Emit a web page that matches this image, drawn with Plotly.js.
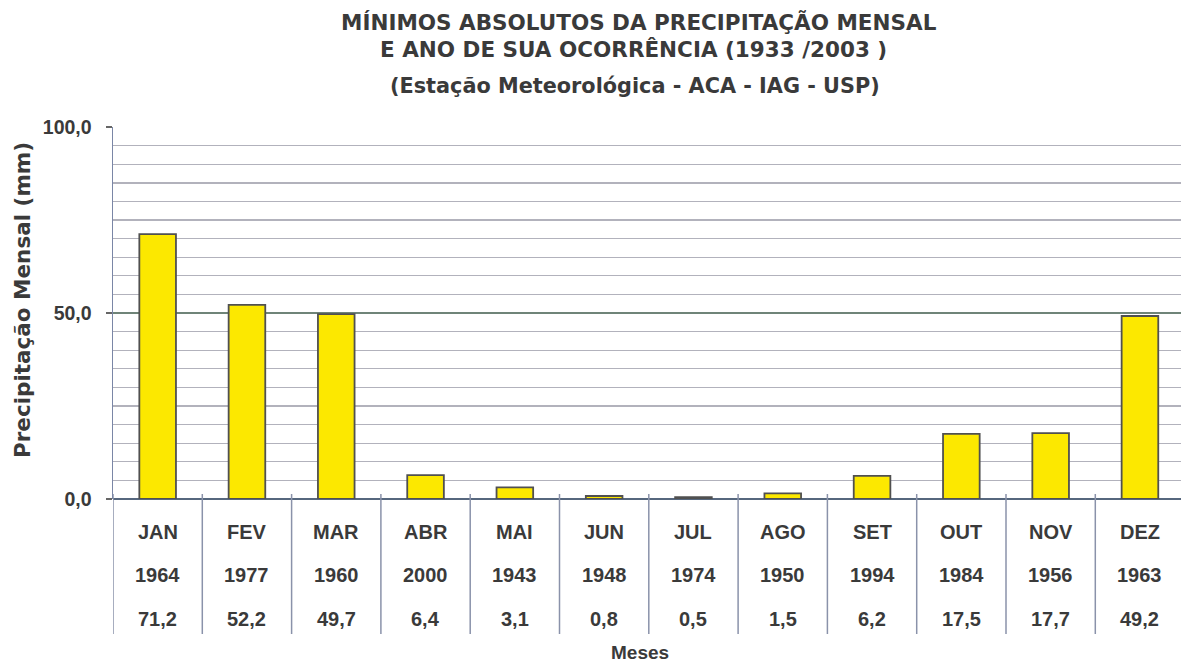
<!DOCTYPE html>
<html>
<head>
<meta charset="utf-8">
<script src="https://cdn.plot.ly/plotly-3.0.1.min.js"></script>
<style>html,body{margin:0;padding:0;background:#fff;}#chart{width:1181px;height:665px;}</style>
</head>
<body>
<div id="chart"></div>
<script>
const months = ["JAN","FEV","MAR","ABR","MAI","JUN","JUL","AGO","SET","OUT","NOV","DEZ"];
const years  = ["1964","1977","1960","2000","1943","1948","1974","1950","1994","1984","1956","1963"];
const values = [71.2, 52.2, 49.7, 6.4, 3.1, 0.8, 0.5, 1.5, 6.2, 17.5, 17.7, 49.2];
const valueLabels = ["71,2","52,2","49,7","6,4","3,1","0,8","0,5","1,5","6,2","17,5","17,7","49,2"];
const titleLines = [
  "MÍNIMOS ABSOLUTOS DA PRECIPITAÇÃO MENSAL",
  "E ANO DE SUA OCORRÊNCIA (1933 /2003 )",
  "(Estação Meteorológica - ACA - IAG - USP)"
];

const W = 1181, H = 665;
const L = 113, T = 127, B = 166, R = 0;
const plotH = H - T - B;
const py = p => (H - B - p) / plotH;          // pixel y -> paper y
const px = p => (p - L) / (W - L - R);         // pixel x -> paper x

const txt = '#3a3a3a';
const fam = '"Liberation Sans", Arial, sans-serif';
const famW = '"DejaVu Sans", "Liberation Sans", sans-serif';

const trace = {
  type: 'bar',
  x: months,
  y: values,
  width: 0.41,
  marker: {color: '#FCE800', line: {color: '#505050', width: 1.8}},
  hoverinfo: 'x+y'
};

const annotations = [];
const titleY = [22, 50, 86];
const titleX = [639, 633, 635];
const titleSize = [21.5, 21.5, 20.8];
titleLines.forEach((t, i) => {
  annotations.push({xref:'paper', yref:'paper', x: px(titleX[i]), y: py(titleY[i]),
    text: '<b>' + t + '</b>', showarrow:false, xanchor:'center', yanchor:'middle',
    font:{family: famW, size: titleSize[i], color: txt}});
});
months.forEach((m, i) => {
  annotations.push({xref:'x', yref:'paper', x: m, y: py(532), text: '<b>'+m+'</b>',
    showarrow:false, xanchor:'center', yanchor:'middle', font:{family:fam, size:20, color:txt}});
  annotations.push({xref:'x', yref:'paper', x: m, y: py(575), text: '<b>'+years[i]+'</b>',
    showarrow:false, xanchor:'center', yanchor:'middle', font:{family:fam, size:20, color:txt}});
  annotations.push({xref:'x', yref:'paper', x: m, y: py(619), text: '<b>'+valueLabels[i]+'</b>',
    showarrow:false, xanchor:'center', yanchor:'middle', font:{family:fam, size:20, color:txt}});
});
annotations.push({xref:'paper', yref:'paper', x: px(640), y: py(652), text:'<b>Meses</b>',
  showarrow:false, xanchor:'center', yanchor:'middle', font:{family:fam, size:19, color:txt}});
annotations.push({xref:'paper', yref:'paper', x: px(22), y: py(300), text:'<b>Precipitação Mensal (mm)</b>',
  textangle:-90, showarrow:false, xanchor:'center', yanchor:'middle', font:{family:famW, size:21.5, color:txt}});

const shapes = [];
for (let i = 0; i <= months.length; i++) {
  shapes.push({type:'line', xref:'x', yref:'paper', x0: i - 0.5, x1: i - 0.5,
    y0: py(494), y1: py(634), line:{color:'#8a92aa', width:1.5}, layer:'above'});
}

const layout = {
  width: W, height: H,
  margin: {l: L, r: R, t: T, b: B, pad: 0},
  paper_bgcolor: '#ffffff',
  plot_bgcolor: '#ffffff',
  separators: ',.',
  showlegend: false,
  xaxis: {
    type: 'category',
    range: [-0.5, -0.5 + (W - L - R) / 89.3],
    showticklabels: false,
    ticks: '',
    showgrid: false,
    zeroline: false,
    showline: false,
    fixedrange: true
  },
  yaxis: {
    range: [0, 100],
    tickvals: [0, 50, 100],
    tickformat: '.1f',
    ticks: 'outside',
    ticklen: 6,
    tickcolor: '#666',
    tickwidth: 1.5,
    ticklabelstandoff: 10,
    tickfont: {family: fam, size: 19.5, color: txt, weight: 700},
    showgrid: true,
    gridcolor: '#6f8478',
    gridwidth: 1.5,
    minor: {dtick: 5, showgrid: true, gridcolor: '#b2b2bc', gridwidth: 1.4, ticks: ''},
    showline: true,
    linecolor: '#7a86a6',
    linewidth: 1.5,
    zeroline: true,
    zerolinecolor: '#56677e',
    zerolinewidth: 1.6,
    fixedrange: true
  },
  annotations: annotations,
  shapes: shapes
};

Plotly.newPlot('chart', [trace], layout, {displayModeBar: false, staticPlot: true});
</script>
</body>
</html>
